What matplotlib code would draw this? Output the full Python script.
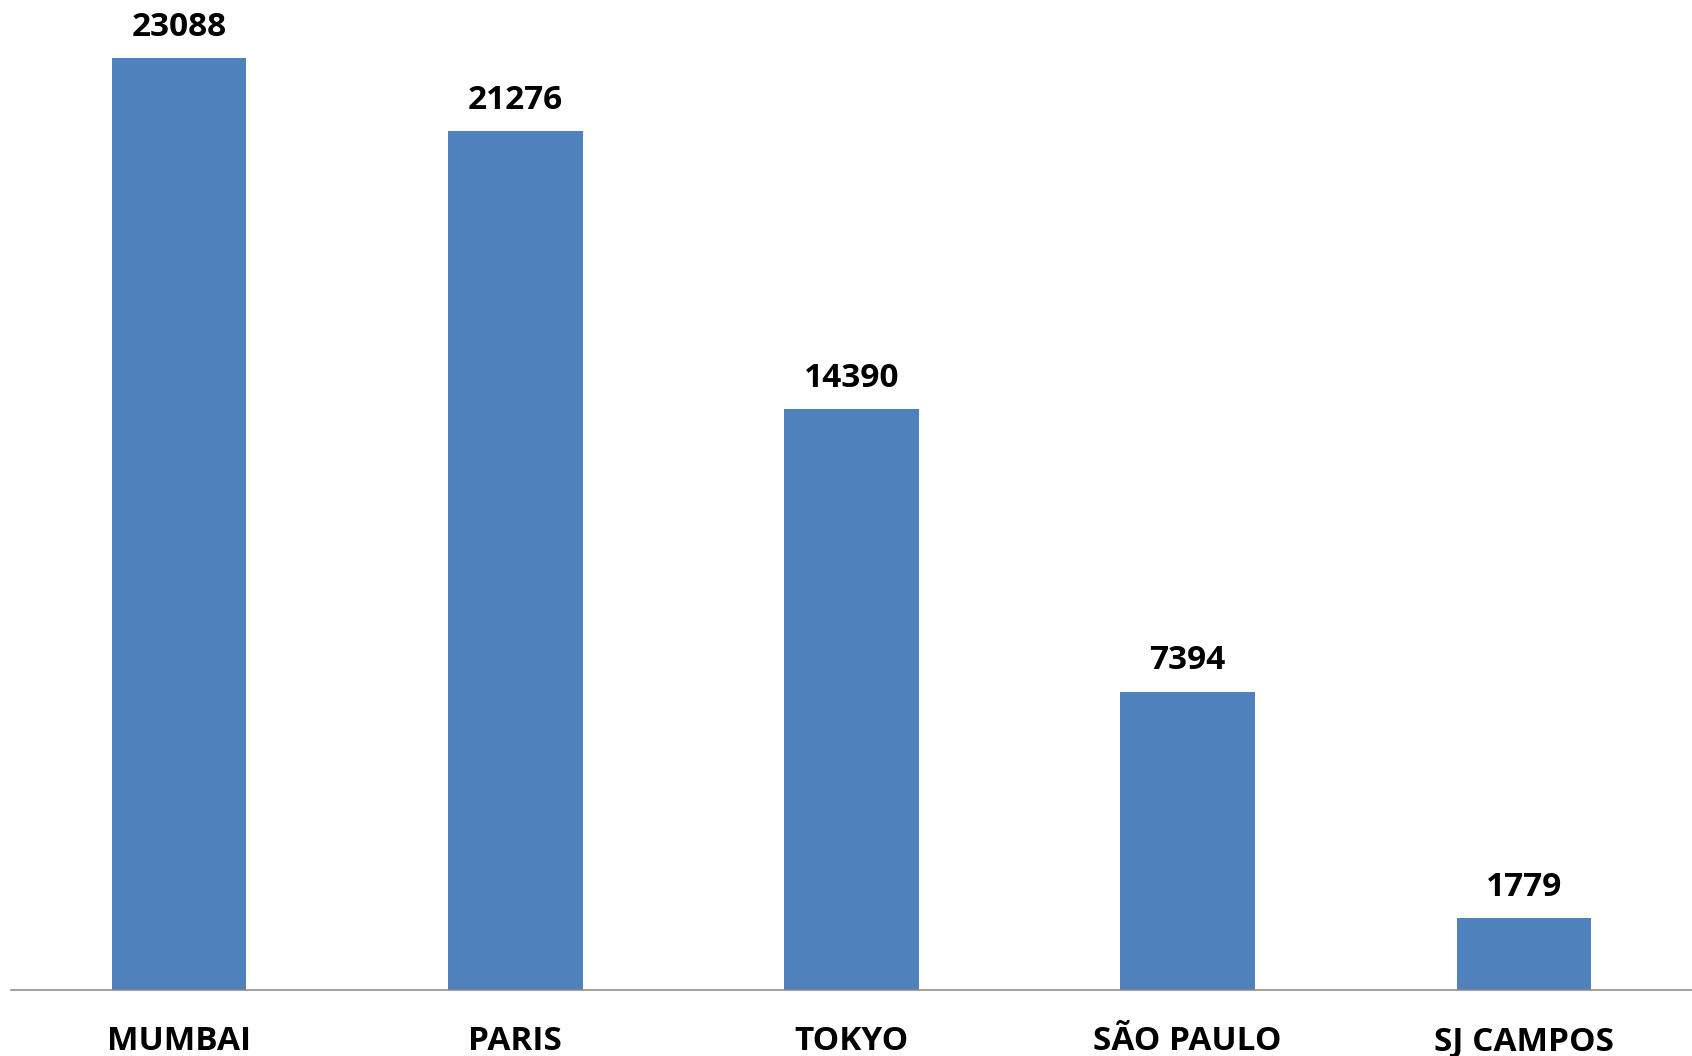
import numpy as np
import matplotlib
matplotlib.use("Agg")
import matplotlib.pyplot as plt

cidades = ["MUMBAI", "PARIS", "TOKYO", "SÃO PAULO", "SJ CAMPOS"]
valores = [23088, 21276, 14390, 7394, 1779]

plt.rcParams["font.family"] = ["Open Sans", "DejaVu Sans"]

fig = plt.figure(figsize=(16.92, 10.56), dpi=100)
# axis line at 990 px from top, bar width 0.4 of the category step
ax = fig.add_axes([11 / 1692, 66 / 1056, 1681 / 1692, 1.018 - 66 / 1056])

x = np.arange(len(cidades))
barras = ax.bar(x, valores, width=0.4, color="#4F81BD", zorder=2)

for b, v in zip(barras, valores):
    ax.annotate(str(v), (b.get_x() + b.get_width() / 2, v),
                xytext=(0, 16), textcoords="offset points",
                ha="center", va="baseline", fontsize=24, fontweight="bold")

ax.set_xlim(-0.5, len(cidades) - 0.5)
ax.set_ylim(0, 25000)
ax.set_xticks(x)
ax.set_xticklabels(cidades, fontsize=24, fontweight="bold")
ax.tick_params(axis="x", length=0, pad=25)
ax.set_yticks([])

for s in ["top", "right", "left"]:
    ax.spines[s].set_visible(False)
ax.spines["bottom"].set_color("#878787")
ax.spines["bottom"].set_linewidth(1.1)
ax.spines["bottom"].set_zorder(3)

fig.savefig("out.png", dpi=100)
plt.close()
